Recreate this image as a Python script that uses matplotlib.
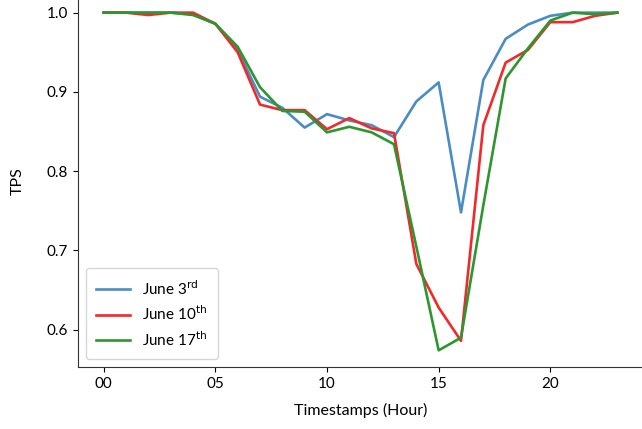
import matplotlib
matplotlib.use("Agg")
import matplotlib.pyplot as plt

plt.rcParams['font.family'] = ['Lato', 'DejaVu Sans']

hours = list(range(24))
june3 = [1.0, 1.0, 1.0, 1.0, 0.998, 0.986, 0.953, 0.894, 0.880, 0.855, 0.872, 0.864,
         0.858, 0.843, 0.888, 0.912, 0.748, 0.915, 0.967, 0.985, 0.996, 1.0, 1.0, 1.0]
june10 = [1.0, 1.0, 0.997, 1.0, 1.0, 0.986, 0.950, 0.884, 0.877, 0.877, 0.853, 0.867,
          0.854, 0.848, 0.683, 0.628, 0.586, 0.858, 0.937, 0.953, 0.988, 0.988, 0.996, 1.0]
june17 = [1.0, 1.0, 1.0, 1.0, 0.997, 0.986, 0.957, 0.906, 0.876, 0.875, 0.849, 0.856,
          0.849, 0.834, 0.705, 0.574, 0.590, 0.757, 0.917, 0.955, 0.990, 1.0, 0.998, 1.0]
labels = ["June 3$^{\\mathrm{rd}}$", "June 10$^{\\mathrm{th}}$", "June 17$^{\\mathrm{th}}$"]
xtick_vals = [0, 5, 10, 15, 20]
xtick_labels = ["00", "05", "10", "15", "20"]

W, H = 642, 429
fig = plt.figure(figsize=(W / 100, H / 100), dpi=100)
left, bottom = 78 / W, (H - 367) / H
right, top = 643 / W, (H + 4) / H
ax = fig.add_axes([left, bottom, right - left, top - bottom])

ax.plot(hours, june3, color='#4a8cc4', lw=1.9, label=labels[0])
ax.plot(hours, june10, color='#f02a2a', lw=1.9, label=labels[1])
ax.plot(hours, june17, color='#2e962e', lw=1.9, label=labels[2])

ax.set_xlim(-1.15, 24.15)
ax.set_ylim(0.553, 1.021)
ax.set_xticks(xtick_vals)
ax.set_xticklabels(xtick_labels)
ax.set_yticks([0.6, 0.7, 0.8, 0.9, 1.0])
ax.set_yticklabels(["0.6", "0.7", "0.8", "0.9", "1.0"])
ax.tick_params(labelsize=11)
ax.set_xlabel("Timestamps (Hour)", fontsize=11.5, labelpad=9)
ax.set_ylabel("TPS", fontsize=11.5, labelpad=16)
for s in ax.spines.values():
    s.set_color('#333333')

ax.legend(loc='lower left', fontsize=11, handlelength=2.2, borderpad=0.7,
          labelspacing=0.45, bbox_to_anchor=(0.0, 0.0))

fig.savefig("out.png", dpi=100)
